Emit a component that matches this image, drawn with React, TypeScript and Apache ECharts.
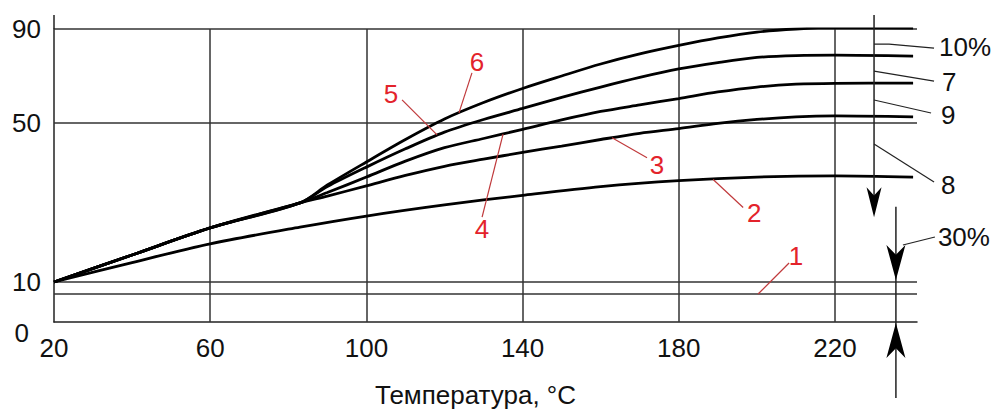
import { useEffect, useRef } from 'react';
import * as echarts from 'echarts';

// ---- data ----
const tempsUpper = [20, 40, 60, 83, 90, 100, 110, 120, 130, 140, 150, 160, 170, 180, 190, 200, 210, 220, 240];
const curve3 = [10, 16.8, 23.6, 29.9, 31.6, 34.2, 36.8, 39.1, 40.9, 42.6, 44.2, 45.85, 47.4, 48.6, 49.9, 51.5, 52.6, 53.0, 52.6];
const curve4 = [10, 16.8, 23.6, 29.9, 32.5, 36.4, 40.4, 43.8, 46.1, 48.4, 51.3, 54.9, 57.7, 60.4, 63.2, 65.3, 66.5, 66.9, 67.0];
const curve5 = [10, 16.8, 23.6, 29.9, 34.0, 38.9, 43.5, 47.7, 51.5, 56.2, 60.9, 65.3, 69.4, 73.0, 75.7, 77.9, 78.7, 78.9, 78.5];
const curve6 = [10, 16.8, 23.6, 29.9, 34.4, 40.2, 45.85, 51.7, 58.7, 64.7, 70.0, 75.1, 79.4, 83.0, 86.2, 88.7, 90.0, 90.6, 90.4];
const temps2 = [20, 40, 60, 83, 100, 120, 140, 160, 180, 200, 220, 240];
const curve2 = [10, 14.9, 19.6, 23.8, 26.6, 29.4, 31.8, 34.0, 35.5, 36.4, 36.7, 36.4];
const line1Temps = [20, 241];
const line1 = [7, 7];
const xTicks = [20, 60, 100, 140, 180, 220];
const yTicks = [0, 10, 50, 90];
const hGrid = [10, 50, 90];
const vGrid = [60, 100, 140, 180, 220];
const X_MIN = 20;
const X_MAX = 241;

// non-uniform vertical scale of the original figure (value knots -> axis units)
const yKnots = [0, 10, 50, 90];
const uKnots = [0, 40, 199, 293];
function toU(v: number) {
  const i = v < yKnots[1] ? 0 : v < yKnots[2] ? 1 : 2;
  return uKnots[i] + ((v - yKnots[i]) * (uKnots[i + 1] - uKnots[i])) / (yKnots[i + 1] - yKnots[i]);
}
function fromU(u: number) {
  const i = u < uKnots[1] ? 0 : u < uKnots[2] ? 1 : 2;
  return yKnots[i] + ((u - uKnots[i]) * (yKnots[i + 1] - yKnots[i])) / (uKnots[i + 1] - uKnots[i]);
}

const FONT = '"Liberation Sans", Arial, Helvetica, sans-serif';
const FS = 26;
const RED = '#e3232b';
const LEADER_RED = '#c0393b';

// red curve labels: anchor on curve (T, value), leader end offset, label offset (px)
const redLabels = [
  { text: '6', t: 123.7, v: 54.3, end: [13, -40], lab: [18, -51] },
  { text: '5', t: 118.1, v: 47.0, end: [-35, -35], lab: [-46, -41] },
  { text: '4', t: 135, v: 47.2, end: [-21, 83], lab: [-21, 95] },
  { text: '3', t: 162.9, v: 46.3, end: [35, 20], lab: [45, 27] },
  { text: '2', t: 188.8, v: 35.8, end: [30, 28], lab: [41, 34] },
  { text: '1', t: 200.3, v: 7, end: [31, -31], lab: [38, -38] },
];

// right-side black labels on the 230 °C marker line
const markerT = 230;
const markerTopV = 96;
const markerTipV = 26.3;
const sideLabels = [
  { text: '10%', v: 83.6, pts: [[15, 0], [60, 4]], lab: [65, 3] },
  { text: '7', v: 72.1, pts: [[60, 10]], lab: [68, 11] },
  { text: '9', v: 59.8, pts: [[57, 13]], lab: [67, 15] },
  { text: '8', v: 44.7, pts: [[60, 38]], lab: [67, 41] },
];
const dimT = 235.6;
const dimTopV = 28.9;
const dimBottomV = -19;

function mkSeries(name: string, ts: number[], vals: number[]) {
  return {
    name,
    type: 'line',
    data: ts.map((t, i) => [t, toU(vals[i])]),
    smooth: 0.3,
    symbol: 'none',
    lineStyle: { color: '#000', width: 2.8 },
    silent: true,
    z: 5,
  };
}

export default function App() {
  const ref = useRef<HTMLDivElement>(null);
  useEffect(() => {
    document.body.style.margin = '0';
    const chart = echarts.init(ref.current!, null, { renderer: 'svg' });
    const gridLine = { color: '#333', width: 1.5, type: 'solid' };
    const option: any = {
      animation: false,
      backgroundColor: '#fff',
      grid: { left: 54, right: 80, top: 29, bottom: 88, outerBoundsMode: 'none', containLabel: false },
      xAxis: {
        type: 'value',
        min: X_MIN,
        max: X_MAX,
        name: 'Температура, °C',
        nameLocation: 'middle',
        nameGap: 60,
        nameTextStyle: { fontSize: FS, fontFamily: FONT, color: '#111', padding: [0, 20, 0, 0] },
        axisLine: { show: true, lineStyle: { color: '#222', width: 1.5 } },
        axisTick: { show: false },
        splitLine: { show: false },
        axisLabel: {
          customValues: xTicks,
          fontSize: FS,
          fontFamily: FONT,
          color: '#111',
          margin: 13,
        },
      },
      yAxis: {
        type: 'value',
        min: 0,
        max: toU(90),
        axisLine: { show: true, lineStyle: { color: '#222', width: 1.5 } },
        axisTick: { show: false },
        splitLine: { show: false },
        axisLabel: {
          customValues: yTicks.map(toU),
          fontSize: FS,
          fontFamily: FONT,
          color: '#111',
          margin: 13,
          formatter: (u: number) => {
            const v = Math.round(fromU(u));
            return v === 0 ? '{z|0}' : String(v);
          },
          rich: { z: { fontSize: FS, fontFamily: FONT, color: '#111', padding: [22, 12, 0, 0] } },
        },
      },
      series: [
        {
          name: '1',
          type: 'line',
          data: line1Temps.map((t, i) => [t, toU(line1[i])]),
          symbol: 'none',
          lineStyle: gridLine,
          silent: true,
          markLine: {
            silent: true,
            symbol: ['none', 'none'],
            label: { show: false },
            lineStyle: gridLine,
            data: [
              ...hGrid.map((v) => ({ yAxis: toU(v) })),
              ...vGrid.map((t) => ({ xAxis: t })),
            ],
          },
        },
        mkSeries('2', temps2, curve2),
        mkSeries('3', tempsUpper, curve3),
        mkSeries('4', tempsUpper, curve4),
        mkSeries('5', tempsUpper, curve5),
        mkSeries('6', tempsUpper, curve6),
      ],
    };
    chart.setOption(option);

    const P = (t: number, v: number) => chart.convertToPixel({ gridIndex: 0 }, [t, toU(v)]) as number[];
    const els: any[] = [];
    const line = (a: number[], b: number[], stroke: string, w: number) =>
      els.push({ type: 'line', silent: true, z: 10, shape: { x1: a[0], y1: a[1], x2: b[0], y2: b[1] }, style: { stroke, lineWidth: w } });
    const text = (s: string, x: number, y: number, fill: string, align = 'left') =>
      els.push({
        type: 'text', silent: true, z: 10, x, y,
        style: { text: s, fill, fontSize: FS, fontFamily: FONT, textAlign: align, textVerticalAlign: 'middle', align, verticalAlign: 'middle' },
      });
    const arrow = (tip: number[], w: number, h: number, dir: number) => {
      // dir = 1 pointing down, -1 pointing up
      els.push({
        type: 'polygon', silent: true, z: 10,
        shape: {
          points: [
            [tip[0], tip[1]],
            [tip[0] - w / 2, tip[1] - dir * h],
            [tip[0], tip[1] - dir * h * 0.72],
            [tip[0] + w / 2, tip[1] - dir * h],
          ],
        },
        style: { fill: '#000' },
      });
    };

    // left axis extension above 90
    line(P(X_MIN, markerTopV), P(X_MIN, 90), '#222', 1.5);

    // red curve labels
    redLabels.forEach((r) => {
      const a = P(r.t, r.v);
      line(a, [a[0] + r.end[0], a[1] + r.end[1]], LEADER_RED, 1.2);
      text(r.text, a[0] + r.lab[0], a[1] + r.lab[1], RED, 'center');
    });

    // 230 °C marker line with arrow
    const mTop = P(markerT, markerTopV);
    const mTip = P(markerT, markerTipV);
    line(mTop, [mTip[0], mTip[1] - 20], '#222', 1.5);
    arrow(mTip, 15, 30, 1);
    sideLabels.forEach((s) => {
      const a = P(markerT, s.v);
      const pts = [a, ...s.pts.map((p) => [a[0] + p[0], a[1] + p[1]])];
      els.push({ type: 'polyline', silent: true, z: 10, shape: { points: pts }, style: { stroke: '#222', lineWidth: 1.2, fill: 'none' } });
      text(s.text, a[0] + s.lab[0], a[1] + s.lab[1], '#111');
    });

    // dimension line for 30 %
    const dTop = P(dimT, dimTopV);
    const dBot = P(dimT, dimBottomV);
    const d10 = P(dimT, 10);
    const d0 = P(dimT, 0);
    line(dTop, dBot, '#222', 1.5);
    const downTip = [d10[0], d10[1] - 2];
    const upTip = [d0[0], d0[1] + 1];
    arrow(downTip, 19, 35, 1);
    arrow(upTip, 19, 35, -1);
    els.push({
      type: 'polyline', silent: true, z: 10,
      shape: { points: [[downTip[0] + 7, downTip[1] - 35], [downTip[0] + 39, downTip[1] - 43]] },
      style: { stroke: '#222', lineWidth: 1.2, fill: 'none' },
    });
    text('30%', downTip[0] + 42, downTip[1] - 43, '#111');

    chart.setOption({ graphic: els });
    return () => chart.dispose();
  }, []);
  return <div ref={ref} style={{ width: 997, height: 410 }} />;
}
